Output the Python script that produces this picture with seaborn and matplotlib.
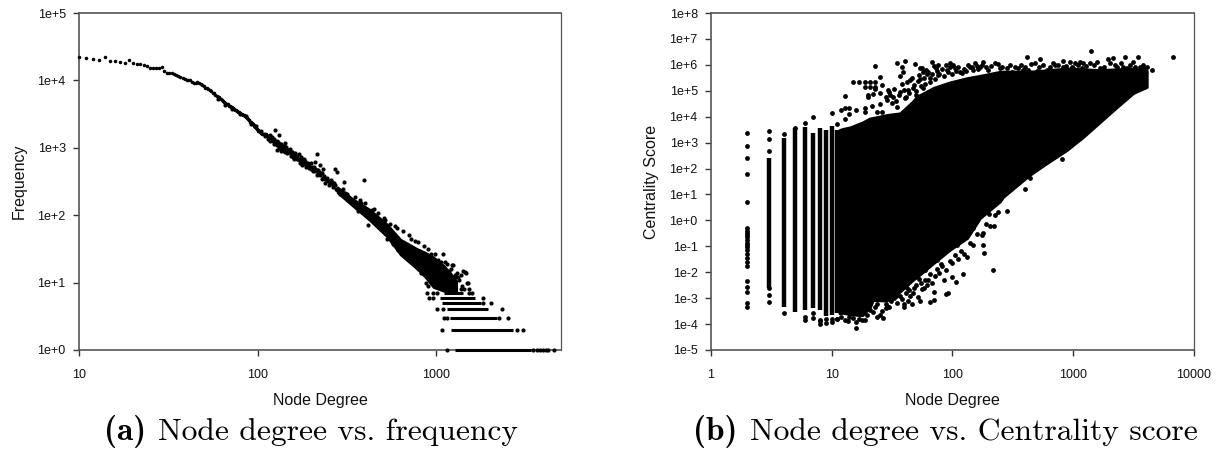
import matplotlib
matplotlib.use("Agg")
import seaborn as sns
import matplotlib.pyplot as plt

# (a) degree vs frequency
line_deg = [10, 11, 12, 13, 14, 15, 16, 17, 18, 19, 20, 21, 22, 23, 24, 25, 26, 27, 28, 29,
            30, 31, 32, 33, 34, 35, 36, 37, 38, 39, 40, 41, 42, 43, 44, 45, 46, 47, 48, 49,
            50, 51, 52, 53, 54, 55, 56, 57, 58, 59, 60, 61, 62, 63, 64, 65, 66, 67, 68, 69,
            70, 71, 72, 73, 74, 75, 76, 77, 78, 79, 80, 81, 82, 83, 84, 85, 86, 87, 88, 89,
            90, 91, 92, 93, 94, 95, 96, 97, 98, 99, 100, 101, 102, 103, 104, 105, 106, 107, 108, 109,
            110, 111, 112, 113]
line_freq = [22500, 21700, 20800, 20300, 22500, 19600, 19200, 18750, 18300, 20100, 17900, 17500, 17300, 16900, 16550, 15450, 15100, 15100, 15100, 15600,
             13800, 12900, 12900, 13000, 12300, 11900, 11500, 11100, 10800, 10500, 10300, 10000, 10200, 9600, 9300, 9100, 9600, 9000, 8800, 8500,
             8300, 7800, 7600, 7400, 7100, 6900, 6500, 6400, 6000, 5900, 5600, 5600, 5300, 5100, 4900, 4800, 4600, 4500, 4400, 4200,
             4200, 4000, 4000, 3850, 3800, 3650, 3600, 3500, 3400, 3450, 3300, 3200, 3200, 3050, 3100, 2950, 2850, 2800, 2700, 2600,
             2550, 2440, 2380, 2300, 2230, 2150, 2100, 2040, 1980, 1900, 1850, 1800, 1750, 1700, 1670, 1640, 1620, 1600, 1590, 1580,
             1600, 1560, 1600, 1520]

tail_deg = [114, 116, 117, 119, 120, 122, 123, 125, 126, 127, 129, 130, 132, 134, 135, 137, 139, 141, 143, 146,
            148, 150, 153, 155, 158, 160, 163, 166, 169, 172, 175, 179, 182, 186, 190, 194, 198, 202, 206, 210,
            214, 218, 224, 228, 233, 238, 243, 248, 254, 260, 266, 272, 279,
            60, 66, 72, 80, 86, 92, 98, 104, 110, 115, 118, 121, 124, 128, 131, 133, 136, 138, 140, 142,
            145, 147, 149, 151, 154, 156, 159, 161, 164, 167, 170, 173, 176, 178, 181, 184, 187, 191, 195, 199,
            203, 207, 211, 216, 220, 226, 230, 235, 240, 246, 251, 257, 263, 269, 275]
tail_freq = [1480, 1400, 1530, 1300, 1420, 1250, 1350, 1240, 1120, 1180, 1100, 1210, 1050, 1000, 1120, 980, 1060, 900, 1000, 928,
             870, 930, 800, 860, 740, 790, 700, 760, 690, 640, 680, 615, 580, 600, 530, 560, 490, 520, 480, 450,
             465, 410, 394, 425, 360, 345, 350, 320, 300, 315, 280, 285, 237,
             5300, 4350, 3800, 3150, 2950, 2250, 2100, 1800, 1500, 1350, 1250, 1450, 1150, 1250, 1000, 1130, 900, 1000, 1050, 880,
             1020, 830, 920, 960, 760, 880, 680, 840, 730, 680, 800, 600, 730, 560, 680, 640, 520, 600, 500, 590,
             450, 520, 480, 390, 440, 420, 340, 380, 300, 355, 280, 330, 260, 300, 245]

stray_deg = [125, 131, 142, 129, 214, 209, 233, 271, 277, 305, 394, 223, 219,
             290, 310, 330, 355, 380, 410, 450, 480, 520, 560, 600, 640, 700, 760,
             880, 905, 925, 1000, 1030, 1060, 1085, 1150, 1180, 1210, 1250, 1290, 1330,
             300, 315, 322, 350, 365, 375, 395, 400, 415, 440, 455, 470, 490, 510, 530, 550, 575, 590, 610, 650, 670,
             700, 720, 750, 790, 820, 850, 900, 940, 980, 1020, 1060, 1120, 1150, 1180, 1230, 1270, 1310, 1350, 1380, 1420, 1460,
             1454, 1517, 1380, 1440, 1520, 1400, 1480]
stray_freq = [1837, 1550, 1190, 927, 809, 622, 479, 479, 433, 311, 336, 556, 468,
              205, 215, 165, 140, 150, 100, 125, 88, 85, 52, 65, 35, 50, 42,
              10, 9, 12, 10, 17, 11, 27, 9, 13, 16, 18, 12, 12,
              245, 205, 170, 185, 115, 170, 110, 150, 72, 120, 78, 108, 62, 90, 44, 75, 38, 68, 30, 58, 26,
              24, 45, 20, 40, 14, 35, 32, 27, 27, 22, 20, 20, 19, 15, 18, 13, 14, 11, 13, 15, 14,
              14.2, 10, 8, 8, 8, 9, 10]

band_deg = [280, 340, 424, 530, 630, 779, 870, 965, 1100, 1200, 1300]
band_high = [262, 176, 122, 74, 44, 32, 28, 24, 18, 14, 10.5]
band_low = [215, 138, 84, 48, 26, 16, 12, 8.5, 7.5, 7.3, 7.3]

row_freq = [1, 2, 3, 4, 5, 6, 7]
row_start = [1278, 1208, 1198, 1148, 1076, 1050, 1100]
row_end = [3400, 2710, 2185, 1940, 1780, 1650, 1420]

row_dot_deg = [1148, 3500, 3650, 3800, 3950, 4100, 4250, 4580,
               1076, 2830, 3060,
               1100, 1148, 2260, 2510,
               1009, 1090, 2330,
               1840, 2020,
               906, 965, 1825,
               887, 965, 1010, 1518, 1585]
row_dot_freq = [1, 1, 1, 1, 1, 1, 1, 1,
                2, 2, 2,
                3, 3, 3, 3,
                4, 4, 4,
                5, 5,
                6, 6, 6,
                7, 7, 7, 7, 7]

# (b) degree vs centrality
col_deg = [3, 4, 5, 6, 7, 8, 9, 10, 11]
col_low = [0.0024, 0.00044, 0.00028, 0.00035, 0.0004, 0.00035, 0.00021, 0.00022, 0.00026]
col_high = [245, 1450, 3550, 4120, 2300, 3550, 3100, 4400, 3100]

blob_deg = [11.6, 12.4, 14.2, 17.2, 18, 20.8, 22, 28.6, 32, 36.9, 47, 50.8, 70, 95, 133, 170, 250, 263,
            417, 468, 611, 891, 1216, 1680, 2320, 3170, 4100]
blob_high = [3060, 3400, 3880, 5540, 6000, 8640, 9000, 11600, 12500, 13500, 38000, 59000, 130000, 210000, 309000, 380000, 546000, 550000,
             560000, 560000, 620000, 733000, 680000, 630000, 680000, 733000, 600000]
blob_low = [0.00026, 0.00027, 0.00024, 0.00022, 0.00022, 0.00045, 0.00085, 0.0008, 0.0011, 0.0018, 0.005, 0.0065, 0.0226, 0.072, 0.21, 1.23, 5.5, 7.9,
            47, 70, 163, 519, 1640, 6240, 23600, 82000, 140000]

scatter_deg = [2, 2, 2, 2, 2, 2, 2, 2, 2, 2, 2, 2, 2, 2, 2, 2, 2, 2, 2, 2, 2, 2, 2, 2,
               3, 3, 3, 3, 3, 3, 4, 4, 5, 6, 6, 6, 7, 7, 7, 8, 8, 8, 9, 9, 10, 10, 11, 11,
               10, 12, 13, 13, 13, 14, 14, 15, 16, 17, 19, 19, 19, 19, 21, 21, 23, 23, 23,
               25, 20, 22, 20, 23, 21.5, 25, 25, 26, 24, 26, 29.5, 30.5, 28.6, 31.5, 34.7,
               34.7, 40.6, 38, 39, 37, 44.7, 49, 54, 56, 63, 67.6, 76.7, 76.7, 65, 57.7, 37, 43, 50, 40.6,
               96, 105, 136, 155, 181, 226, 283, 353, 415, 428, 535, 486, 501, 712, 834, 948, 1042, 1222,
               1416, 1390, 1683, 1970, 2168, 2311, 2712, 2800, 3450, 3610, 4100, 4510, 3980, 3920, 6810,
               54, 57, 74, 90, 102, 116, 145, 170, 199, 249, 311, 389, 607, 834, 1010, 1185,
               809, 402, 442, 283, 226, 223, 179, 179, 184, 217, 133, 122, 107, 99, 85.5, 93, 89, 70, 70,
               65.5, 54, 46, 40, 40, 56.5, 63.4, 53, 47.6, 30, 26.8, 25, 24, 19, 19.8, 16, 16, 13.8, 13, 11.9, 11,
               24, 28, 31, 34, 36, 42, 60, 75, 80, 110, 150, 200]
scatter_val = [2290, 750, 245, 60, 4.9, 0.5, 0.4, 0.33, 0.27, 0.22, 0.17, 0.14, 0.11, 0.09, 0.07, 0.05, 0.036, 0.024, 0.017, 0.0047, 0.0026, 0.0018, 0.00063, 0.00047,
               2750, 1420, 490, 0.0024, 0.0013, 0.00072, 2100, 0.00026, 3550, 5530, 0.00019, 0.00015, 9400, 0.00026, 0.00017, 0.00014, 0.0001, 0.00013, 0.00011, 0.00016, 0.000125, 0.00016, 5200, 0.000155,
               14300, 18100, 64500, 22300, 7900, 21000, 12300, 224000, 18100, 224000, 224000, 144000, 21000, 15500, 224000, 144000, 224000, 144000, 902000,
               350000, 68700, 75000, 55700, 113500, 25800, 79000, 31000, 167000, 15000, 15500, 107000, 68600, 44000, 32700, 24300,
               1140000, 1400000, 851000, 546000, 380000, 260000, 1070000, 284000, 733000, 546000, 1320000, 1000000, 407000, 224000, 123000, 92000, 107000, 68600, 51000,
               1140000, 733000, 1000000, 1140000, 1320000, 1140000, 733000, 733000, 2070000, 630000, 1620000, 1140000, 596000, 1000000, 1450000, 1320000, 1140000, 1140000,
               3320000, 1140000, 733000, 1620000, 1780000, 851000, 1950000, 733000, 1950000, 851000, 851000, 617000, 260000, 145000, 1950000,
               733000, 546000, 733000, 630000, 1000000, 546000, 851000, 851000, 630000, 733000, 546000, 630000, 630000, 851000, 733000, 733000,
               233, 15.7, 41.7, 2.3, 1.6, 0.6, 0.316, 0.112, 0.057, 0.0122, 0.04, 0.0085, 0.0041, 0.0063, 0.005, 0.00155, 0.00145, 0.00174, 0.00085,
               0.00072, 0.00079, 0.00059, 0.00059, 0.00044, 0.0023, 0.005, 0.0054, 0.0016, 0.00044, 0.000166, 0.000224, 0.00019, 0.00015, 0.00022, 0.000068, 0.000117, 0.000135, 0.00015, 0.00018, 0.000155,
               0.0006, 0.0004, 0.0009, 0.0012, 0.002, 0.0025, 0.012, 0.03, 0.02, 0.11, 0.5, 1.8]

top_deg = [28, 30, 32, 33, 34, 36, 38, 40, 41, 42, 44, 46, 47, 48, 50, 52, 53, 55, 58, 60,
           61, 62, 66, 68, 70, 72, 75, 78, 82, 85, 88, 92, 95, 100, 108, 112, 120, 125, 130, 140,
           150, 160, 165, 175, 190, 210, 240, 260, 300, 330, 370, 400, 450, 520, 560, 650, 680, 760, 880, 980,
           1100, 1150, 1280, 1500, 1600, 1800, 2050, 2250, 2500, 2600, 2950, 3150, 3300, 3800, 3900, 4000]
top_val = [60000, 90000, 55000, 120000, 40000, 70000, 180000, 110000, 60000, 210000, 80000, 300000, 130000, 170000, 100000, 240000, 420000, 150000, 320000, 190000,
           620000, 430000, 300000, 430000, 900000, 280000, 560000, 450000, 700000, 360000, 950000, 520000, 800000, 430000, 600000, 850000, 480000, 700000, 560000, 800000,
           620000, 900000, 700000, 1000000, 800000, 900000, 1050000, 850000, 1000000, 850000, 950000, 800000, 1100000, 850000, 950000, 800000, 1200000, 1000000, 900000, 850000,
           950000, 1250000, 900000, 1000000, 1300000, 850000, 1200000, 950000, 1150000, 800000, 1000000, 1250000, 850000, 1000000, 700000, 420000]

edge_deg = [14, 15, 17, 18, 21, 22, 23, 26, 28, 29, 31, 33, 35, 37, 38, 41, 43, 44, 45, 48,
            50, 52, 55, 58, 60, 62, 66, 68, 72, 75, 78, 82, 88, 95, 100, 105, 112, 118, 125, 140,
            150, 160, 175, 190, 205, 240]
edge_val = [0.00019, 0.00017, 0.00016, 0.00014, 0.00035, 0.00028, 0.00045, 0.00032, 0.00062, 0.00048, 0.00075, 0.001, 0.00065, 0.0012, 0.00095, 0.0016, 0.0008, 0.0021, 0.0012, 0.0024,
            0.0032, 0.0011, 0.0038, 0.0025, 0.0048, 0.0032, 0.0085, 0.0038, 0.0072, 0.0135, 0.0095, 0.017, 0.012, 0.027, 0.022, 0.045, 0.031, 0.065, 0.05, 0.14,
            0.11, 0.3, 0.28, 0.7, 0.6, 2.2]

deg_ticks_a = [10, 100, 1000]
deg_labels_a = ["10", "100", "1000"]
freq_ticks = [1, 10, 100, 1000, 10000, 100000]
freq_labels = ["1e+0", "1e+1", "1e+2", "1e+3", "1e+4", "1e+5"]
deg_ticks_b = [1, 10, 100, 1000, 10000]
deg_labels_b = ["1", "10", "100", "1000", "10000"]
score_ticks = [1e-5, 1e-4, 1e-3, 1e-2, 1e-1, 1e0, 1e1, 1e2, 1e3, 1e4, 1e5, 1e6, 1e7, 1e8]
score_labels = ["1e-5", "1e-4", "1e-3", "1e-2", "1e-1", "1e+0", "1e+1", "1e+2", "1e+3", "1e+4", "1e+5", "1e+6", "1e+7", "1e+8"]

AXIS_GREY = "#555555"


def style_axes(ax, xticks, xlabels, yticks, ylabels, ylabel):
    ax.set_xscale("log")
    ax.set_yscale("log")
    ax.set_xticks(xticks)
    ax.set_xticklabels(xlabels)
    ax.set_yticks(yticks)
    ax.set_yticklabels(ylabels)
    ax.minorticks_off()
    ax.tick_params(axis="both", length=4.5, width=1.0, color="#333333", labelsize=9, pad=5, labelcolor="#111111", bottom=True, left=True)
    ax.tick_params(axis="x", pad=9)
    ax.set_xlabel("Node Degree", fontsize=11.5, labelpad=9, color="#111111")
    ax.set_ylabel(ylabel, fontsize=11.5, color="#111111")
    ax.yaxis.set_label_coords(-0.108, 0.5)
    for name in ["left", "bottom", "top"]:
        ax.spines[name].set_visible(True)
        ax.spines[name].set_color(AXIS_GREY)
        ax.spines[name].set_linewidth(1.2)
    ax.spines["right"].set_visible(True)
    ax.spines["right"].set_color(AXIS_GREY)
    ax.spines["right"].set_linewidth(0.9)


def main():
    sns.set_theme(style="white")
    plt.rcParams["font.family"] = ["Liberation Sans", "DejaVu Sans"]

    fig = plt.figure(figsize=(12.16, 4.5), dpi=100)
    ax1 = fig.add_axes([79 / 1216, 1 - 350 / 450, 482 / 1216, 337 / 450])
    ax2 = fig.add_axes([711 / 1216, 1 - 350 / 450, 482.5 / 1216, 337 / 450])

    # left panel
    ax1.fill_between(band_deg, band_low, band_high, color="black", linewidth=1.5, zorder=3)
    ax1.hlines(row_freq, row_start, row_end, color="black", linewidth=2.2, zorder=4, clip_on=False)
    sns.scatterplot(x=line_deg, y=line_freq, ax=ax1, color="black", s=6.5, linewidth=0, zorder=5, clip_on=False, legend=False)
    for xs, ys in [(tail_deg, tail_freq), (stray_deg, stray_freq), (row_dot_deg, row_dot_freq)]:
        sns.scatterplot(x=xs, y=ys, ax=ax1, color="black", s=9, linewidth=0, zorder=5, clip_on=False, legend=False)
    style_axes(ax1, deg_ticks_a, deg_labels_a, freq_ticks, freq_labels, "Frequency")
    ax1.set_xlim(10, 5000)
    ax1.set_ylim(1, 100000)

    # right panel
    ax2.fill_between(blob_deg, blob_low, blob_high, color="black", linewidth=2, zorder=3)
    ax2.vlines(col_deg, col_low, col_high, color="black", linewidth=3.2, zorder=3)
    for xs, ys in [(scatter_deg, scatter_val), (top_deg, top_val), (edge_deg, edge_val)]:
        sns.scatterplot(x=xs, y=ys, ax=ax2, color="black", s=12, linewidth=0, zorder=5, legend=False)
    style_axes(ax2, deg_ticks_b, deg_labels_b, score_ticks, score_labels, "Centrality Score")
    ax2.set_xlim(1, 10000)
    ax2.set_ylim(1e-5, 1e8)

    # captions
    fig.text(104 / 1216, 1 - 440 / 450, "(a)", family="cmb10", fontsize=24, color="black", va="baseline")
    fig.text(158 / 1216, 1 - 440 / 450, "Node degree vs. frequency", family="cmr10", fontsize=22.7, color="black", va="baseline")
    fig.text(693 / 1216, 1 - 440 / 450, "(b)", family="cmb10", fontsize=24, color="black", va="baseline")
    fig.text(750 / 1216, 1 - 440 / 450, "Node degree vs. Centrality score", family="cmr10", fontsize=22.7, color="black", va="baseline")

    plt.savefig("out.png", dpi=100)
    plt.close()


if __name__ == "__main__":
    main()
